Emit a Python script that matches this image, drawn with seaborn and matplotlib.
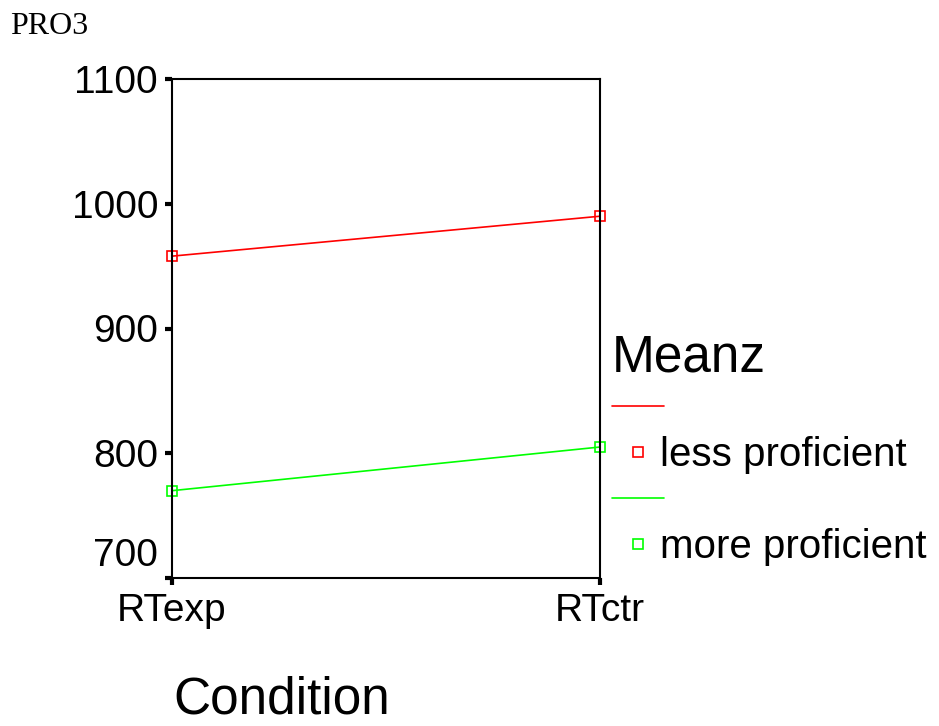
import matplotlib
matplotlib.use("Agg")
import matplotlib.pyplot as plt
import matplotlib.transforms as mtransforms
import seaborn as sns
import pandas as pd
from matplotlib.lines import Line2D

# ---- data ----
conditions = ["RTexp", "RTctr"]
groups = ["less proficient", "more proficient"]
less_proficient = [958, 990]
more_proficient = [770, 805]
yticks = [700, 800, 900, 1000, 1100]
colors = {"less proficient": "#ff0000", "more proficient": "#00ff00"}

df = pd.DataFrame({
    "Condition": conditions * 2,
    "Meanz": less_proficient + more_proficient,
    "group": [groups[0]] * 2 + [groups[1]] * 2,
})

sns.set_style("white")
plt.rcParams["font.family"] = ["Liberation Sans", "DejaVu Sans"]
plt.rcParams["text.color"] = "black"
plt.rcParams["axes.labelcolor"] = "black"

fig = plt.figure(figsize=(9.39, 7.26), dpi=100)
ax = fig.add_axes([172 / 939, 1 - 578 / 726, 428 / 939, 499 / 726])

sns.lineplot(data=df, x="Condition", y="Meanz", hue="group",
             palette=colors, marker="s", markersize=7, linewidth=1.2,
             legend=False, ax=ax, sort=False)
for ln in ax.lines:
    ln.set_markerfacecolor("none")
    ln.set_markeredgecolor(ln.get_color())
    ln.set_markeredgewidth(1.2)
    ln.set_clip_on(False)

ax.set_xlim(0, 1)
ax.set_ylim(700, 1100)
ax.set_yticks(yticks)
ax.set_yticklabels([str(v) for v in yticks])
ax.set_xticks([0, 1])
ax.set_xticklabels(conditions)
ax.set_ylabel("")
ax.set_xlabel("Condition", fontsize=37, color="black")
ax.xaxis.set_label_coords((173 - 172) / 428, -(713 - 578) / 499)
ax.xaxis.label.set_ha("left")
ax.xaxis.label.set_va("baseline")

for s in ax.spines.values():
    s.set_visible(True)
    s.set_color("black")
    s.set_linewidth(1.5)

ax.tick_params(axis="both", which="major", direction="out", length=5,
               width=3, color="black", labelsize=28, labelcolor="black")
ax.tick_params(axis="y", pad=5, left=True)
ax.tick_params(axis="x", pad=6, bottom=True)

# lowest y tick label sits raised above the x tick labels, as in the reference
fig.canvas.draw()
low_label = ax.get_yticklabels()[0]
low_label.set_transform(low_label.get_transform() +
                        mtransforms.ScaledTranslation(0, 26 / 100, fig.dpi_scale_trans))

# legend: line row, then marker + label row
handles = []
labels = []
for g in groups:
    handles.append(Line2D([], [], color=colors[g], linewidth=1.2))
    labels.append("")
    handles.append(Line2D([], [], color=colors[g], marker="s", linestyle="none",
                          markersize=7, markerfacecolor="none",
                          markeredgewidth=1.2))
    labels.append(g)
leg = fig.legend(handles, labels, title="Meanz", loc="upper left",
                 bbox_to_anchor=(612 / 939, 1 - 333 / 726), frameon=False,
                 fontsize=29, title_fontsize=37, handlelength=1.3,
                 handletextpad=-0.1, labelspacing=0.2, borderpad=0.0,
                 borderaxespad=0.0, labelcolor="black")
leg.get_title().set_color("black")
leg._legend_box.align = "left"

fig.text(10 / 939, 1 - 12 / 726, "PRO3", family=["Liberation Serif", "DejaVu Serif"],
         fontsize=23, ha="left", va="top", color="black")

fig.savefig("out.png", dpi=100, facecolor="white")
